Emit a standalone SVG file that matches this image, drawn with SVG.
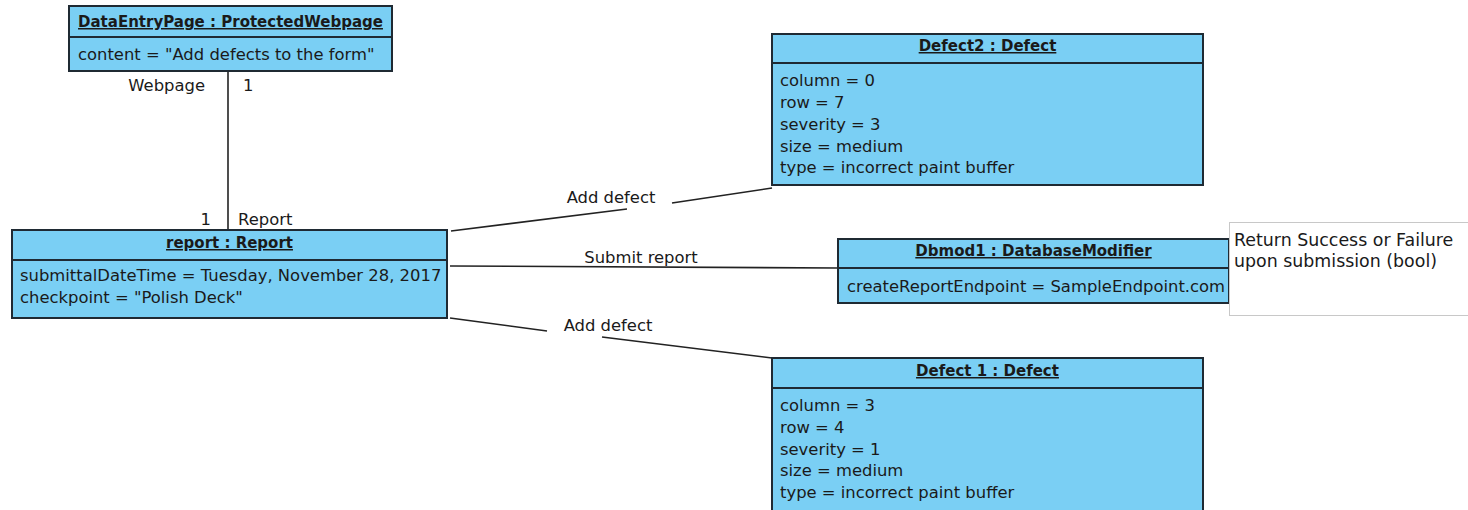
<svg xmlns="http://www.w3.org/2000/svg" width="1468" height="510" viewBox="0 0 1468 510">
<style>
.box{fill:#7acff4;stroke:#1f2a33;stroke-width:2}
.div{stroke:#1f2a33;stroke-width:2}
.t{font-family:"DejaVu Sans",sans-serif;font-size:16.4px;fill:#1a1a1a}
.h{font-weight:bold;font-size:15px;text-decoration:underline;text-anchor:middle}
.n{font-size:17.4px}
.c{stroke:#222;stroke-width:1.6;fill:none}
.note{fill:#fff;stroke:#c8c8c8;stroke-width:1}
</style>
<rect width="1468" height="510" fill="#fff"/>
<g id="connectors">
<line class="c" x1="228" y1="71" x2="228" y2="230"/>
<line class="c" x1="451" y1="231" x2="627" y2="209"/>
<line class="c" x1="672" y1="203" x2="772" y2="188"/>
<line class="c" x1="450" y1="266" x2="838" y2="268"/>
<line class="c" x1="450" y1="318" x2="547" y2="331"/>
<line class="c" x1="602" y1="337" x2="772" y2="358"/>
<text class="t" x="205" y="91" text-anchor="end">Webpage</text>
<text class="t" x="243" y="91">1</text>
<text class="t" x="211" y="225" text-anchor="end">1</text>
<text class="t" x="238" y="225">Report</text>
<text class="t" x="611" y="203" text-anchor="middle">Add defect</text>
<text class="t" x="641" y="263" text-anchor="middle">Submit report</text>
<text class="t" x="608" y="331" text-anchor="middle">Add defect</text>
</g>
<g id="dataentrypage">
<rect class="box" x="69" y="6" width="323" height="65"/>
<line class="div" x1="69" y1="37" x2="392" y2="37"/>
<text class="t h" x="230.5" y="27">DataEntryPage : ProtectedWebpage</text>
<text class="t" x="78" y="60">content = "Add defects to the form"</text>
</g>
<g id="report">
<rect class="box" x="12" y="230" width="435" height="88"/>
<line class="div" x1="12" y1="260" x2="447" y2="260"/>
<text class="t h" x="229.5" y="248">report : Report</text>
<text class="t" x="20" y="281">submittalDateTime = Tuesday, November 28, 2017</text>
<text class="t" x="20" y="303">checkpoint = "Polish Deck"</text>
</g>
<g id="defect2">
<rect class="box" x="772" y="34" width="431" height="151"/>
<line class="div" x1="772" y1="63" x2="1203" y2="63"/>
<text class="t h" x="987.5" y="51">Defect2 : Defect</text>
<text class="t" x="780" y="86">column = 0</text>
<text class="t" x="780" y="108">row = 7</text>
<text class="t" x="780" y="130">severity = 3</text>
<text class="t" x="780" y="152">size = medium</text>
<text class="t" x="780" y="173">type = incorrect paint buffer</text>
</g>
<g id="dbmod1">
<rect class="box" x="838" y="239" width="391" height="64"/>
<line class="div" x1="838" y1="268" x2="1229" y2="268"/>
<text class="t h" x="1033.5" y="256">Dbmod1 : DatabaseModifier</text>
<text class="t" x="847" y="292">createReportEndpoint = SampleEndpoint.com</text>
</g>
<g id="note">
<rect class="note" x="1229.5" y="222.5" width="245" height="93"/>
<text class="t n" x="1234" y="246">Return Success or Failure</text>
<text class="t n" x="1234" y="267">upon submission (bool)</text>
</g>
<g id="defect1">
<rect class="box" x="772" y="358" width="431" height="160"/>
<line class="div" x1="772" y1="388" x2="1203" y2="388"/>
<text class="t h" x="987.5" y="376">Defect 1 : Defect</text>
<text class="t" x="780" y="411">column = 3</text>
<text class="t" x="780" y="433">row = 4</text>
<text class="t" x="780" y="455">severity = 1</text>
<text class="t" x="780" y="476">size = medium</text>
<text class="t" x="780" y="498">type = incorrect paint buffer</text>
</g>
</svg>
